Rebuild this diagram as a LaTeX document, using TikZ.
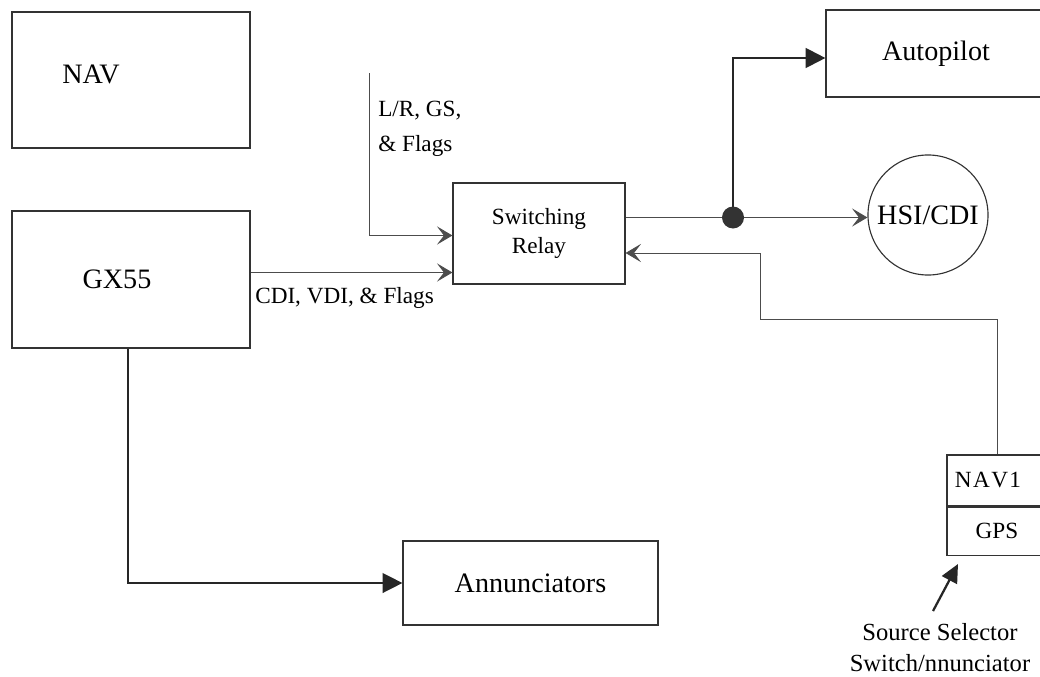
\documentclass[tikz,border=0pt]{standalone}
\usepackage{fontspec}
\setmainfont{Liberation Serif}
\usetikzlibrary{arrows.meta, calc}
\tikzset{
  unit/.style={
    draw=black!80, line width=0.8pt, rectangle, inner sep=0pt,
    font=\rmfamily\fontsize{20}{24}\selectfont
  },
  sigline/.style={
    draw=black!70, line width=0.6pt,
    -{Stealth[length=11pt, width=13pt, inset=5pt]}
  },
  bigline/.style={
    draw=black!85, line width=1pt,
    -{Triangle[length=14pt, width=14pt]}
  },
  smalltxt/.style={font=\rmfamily\fontsize{16.5}{20}\selectfont, inner sep=0pt}
}

\begin{document}
\begin{tikzpicture}[x=0.025cm, y=-0.025cm]
  \clip (0,0) rectangle (1040,677);

  % ── Boxes ─────────────────────────────────────────────────────────
  \node[unit, minimum width=5.95cm, minimum height=3.4cm]   (nav)   at (131,80)    {};
  \node[unit, minimum width=5.95cm, minimum height=3.425cm] (gx)    at (131,279.5) {};
  \node[unit, minimum width=4.3cm, minimum height=2.525cm, align=center,
        font=\rmfamily\fontsize{16.5}{20}\selectfont]      (relay) at (539,233.5) {Switching\\Relay};
  \node[unit, minimum width=5.5cm, minimum height=2.175cm]  (ap)    at (936,53.5)  {Autopilot};
  \node[unit, circle, minimum size=3cm]                     (hsi)   at (928,215)   {HSI/CDI};
  \node[unit, minimum width=6.375cm, minimum height=2.1cm]  (ann)   at (530.5,583) {Annunciators};

  \node[font=\rmfamily\fontsize{20}{24}\selectfont] (navlbl) at (91,74)   {NAV};
  \node[font=\rmfamily\fontsize{20}{24}\selectfont] (gxlbl)  at (117,279) {GX55};

  % source selector switch, two cells
  \node[unit, minimum width=2.5cm, minimum height=1.275cm, smalltxt] (navone) at (997,480.5) {};
  \node[unit, minimum width=2.5cm, minimum height=1.2cm, smalltxt, anchor=north]
        (gps) at (navone.south) {GPS};
  \node[smalltxt] (navonelbl) at (988,480) {N\kern1ptA\kern1ptV\kern1pt1};

  % ── Signals into the relay ───────────────────────────────────────
  \coordinate (lrtop) at (369,73);
  \draw[sigline] (lrtop) |- ($(relay.west)+(0,2)$);
  \node[smalltxt, anchor=west] (lrlbl)  at (378,111) {L/R, GS,};
  \node[smalltxt, anchor=west] (flglbl) at (378,146) {\& Flags};

  \draw[sigline] ($(gx.east)+(0,-7)$) -- ($(relay.west)+(0,39)$);
  \node[smalltxt, anchor=west] (cdilbl) at (255,298) {CDI, VDI, \& Flags};

  % ── Relay outputs ───────────────────────────────────────────────
  \coordinate (split) at (733,217.5);
  \draw[sigline] ($(relay.east)+(0,-16)$) -- (split) -- (split -| hsi.west);
  \draw[bigline, line width=1.6pt] (split) |- (ap.west |- 0,58);
  \fill[black!80] (split) circle (11);

  % feedback from selector to relay
  \coordinate (bend) at (760,319);
  \draw[sigline] (navone.north) |- (bend) |- ($(relay.east)+(0,19.5)$);

  % ── GX55 to annunciators ─────────────────────────────────────────
  \draw[bigline] ($(gx.south)+(-3,0)$) |- (ann.west);

  % ── Selector label ───────────────────────────────────────────────
  \coordinate (tip) at (958,564);
  \draw[line width=1.6pt, black!85, -{Triangle[length=13pt, width=12pt]}] (933,611) -- (tip);
  \node[smalltxt, align=center, font=\rmfamily\fontsize{17.5}{22}\selectfont] (srclbl) at (940,648)
       {Source Selector\\Switch/nnunciator};
\end{tikzpicture}
\end{document}
